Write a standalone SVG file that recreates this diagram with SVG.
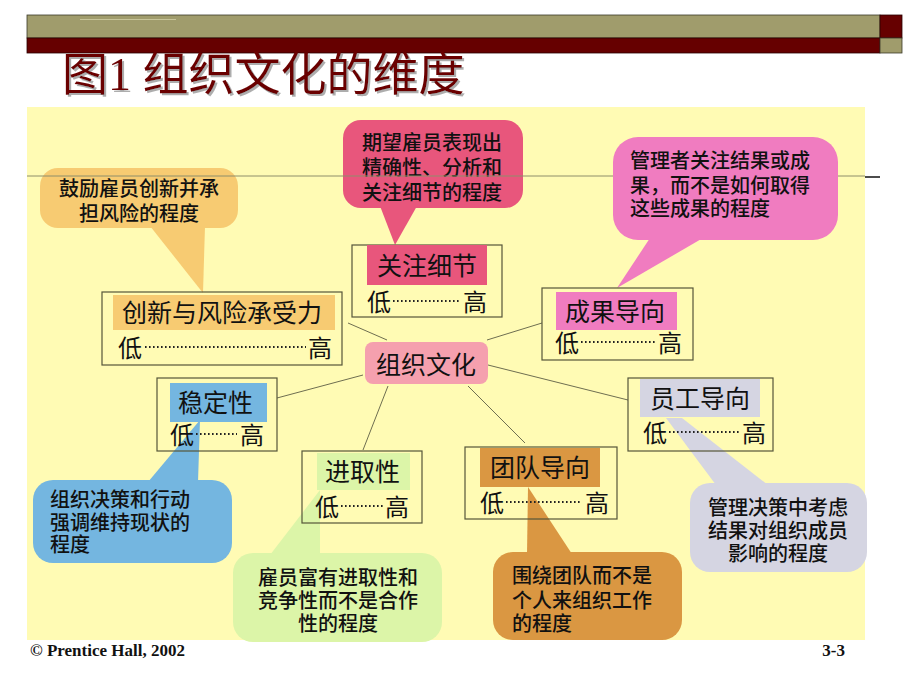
<svg xmlns="http://www.w3.org/2000/svg" width="920" height="690" viewBox="0 0 920 690">
<style>
.cjk{font-family:"Liberation Serif","Noto Sans CJK SC",serif;}
.bub{font-family:"Noto Sans CJK SC",sans-serif;font-size:20px;font-weight:500;fill:#111;}
.lab{font-family:"Noto Sans CJK SC",sans-serif;font-size:25px;fill:#111;}
.row{font-family:"Noto Sans CJK SC",sans-serif;font-size:24px;fill:#111;}
.box{fill:none;stroke:#55553a;stroke-width:1.2;}
.dots{stroke:#222;stroke-width:1.8;stroke-dasharray:1.6 2.4;}
.conn line{stroke:#6e6e50;stroke-width:1;}
.foot{font-family:"Liberation Serif",serif;font-weight:bold;font-size:17px;fill:#111;}
</style>
<defs>
<filter id="shadow" x="-5%" y="-20%" width="110%" height="140%">
<feDropShadow dx="2" dy="2" stdDeviation="0.6" flood-color="#8a8a8a" flood-opacity="0.7"/>
</filter>
</defs>
<rect width="920" height="690" fill="#ffffff"/>
<!-- header bars -->
<rect x="27" y="15" width="853" height="23" fill="#a09c6c" stroke="#3a3a2a" stroke-width="0.8"/>
<rect x="27" y="38" width="853" height="15" fill="#660000" stroke="#2a0000" stroke-width="0.8"/>
<rect x="880" y="15" width="22" height="23" fill="#660000" stroke="#2a0000" stroke-width="0.8"/>
<rect x="880" y="38" width="22" height="15" fill="#a09c6c" stroke="#3a3a2a" stroke-width="0.8"/>
<line x1="80" y1="19.5" x2="176" y2="19.5" stroke="#c8c59a" stroke-width="1"/>
<!-- title -->
<text x="62" y="90" class="cjk" font-size="46" fill="#6b0000" filter="url(#shadow)">图1 组织文化的维度</text>
<!-- background panel -->
<rect x="27" y="107" width="838" height="533" fill="#fffbb4"/>
<!-- bubbles A, B -->
<g id="bubble-innovation">
<polygon points="150,226 205,226 203,293" fill="#f7cb72"/>
<rect x="40" y="168" width="198" height="60" rx="18" fill="#f7cb72"/>
<text class="bub" text-anchor="middle"><tspan x="139" y="196">鼓励雇员创新并承</tspan><tspan x="139" y="221">担风险的程度</tspan></text>
</g>
<g id="bubble-detail">
<polygon points="380,206 417,206 395,245" fill="#e8567c"/>
<rect x="343" y="120" width="180" height="88" rx="18" fill="#e8567c"/>
<text class="bub"><tspan x="362" y="150">期望雇员表现出</tspan><tspan x="362" y="175">精确性、分析和</tspan><tspan x="362" y="200">关注细节的程度</tspan></text>
</g>
<line x1="27" y1="176" x2="865" y2="176" stroke="#8e8e6a" stroke-width="1"/>
<line x1="865" y1="177" x2="880" y2="177" stroke="#111" stroke-width="1.5"/>
<g id="bubble-outcome">
<polygon points="650,238 703,238 617,288" fill="#f07cc0"/>
<rect x="613" y="137" width="225" height="103" rx="25" fill="#f07cc0"/>
<text class="bub"><tspan x="630" y="168">管理者关注结果或成</tspan><tspan x="630" y="193">果，而不是如何取得</tspan><tspan x="630" y="216">这些成果的程度</tspan></text>
</g>
<g id="bubble-stability">
<polygon points="148,482 198,482 200,420" fill="#74b6e0"/>
<rect x="33" y="480" width="199" height="83" rx="20" fill="#74b6e0"/>
<text class="bub"><tspan x="50" y="507">组织决策和行动</tspan><tspan x="50" y="530">强调维持现状的</tspan><tspan x="50" y="552">程度</tspan></text>
</g>
<g id="bubble-aggressive">
<polygon points="270,555 320,555 320,490" fill="#dcf5a8"/>
<rect x="233" y="553" width="209" height="89" rx="20" fill="#dcf5a8"/>
<text class="bub" text-anchor="middle"><tspan x="338" y="585">雇员富有进取性和</tspan><tspan x="338" y="608">竞争性而不是合作</tspan><tspan x="338" y="631">性的程度</tspan></text>
</g>
<g id="bubble-team">
<polygon points="527,554 572,554 528,487" fill="#da9742"/>
<rect x="493" y="552" width="189" height="88" rx="20" fill="#da9742"/>
<text class="bub"><tspan x="512" y="583">围绕团队而不是</tspan><tspan x="512" y="608">个人来组织工作</tspan><tspan x="512" y="631">的程度</tspan></text>
</g>
<g id="bubble-people">
<polygon points="666,418 682,418 768,485 716,485" fill="#d5d5e2"/>
<rect x="690" y="483" width="177" height="89" rx="20" fill="#d5d5e2"/>
<text class="bub" text-anchor="middle"><tspan x="778" y="515">管理决策中考虑</tspan><tspan x="778" y="538">结果对组织成员</tspan><tspan x="778" y="561">影响的程度</tspan></text>
</g>
<!-- connectors -->
<g id="connectors" class="conn">
<line x1="348" y1="323" x2="387" y2="340"/>
<line x1="542" y1="323" x2="487" y2="340"/>
<line x1="277" y1="398" x2="363" y2="375"/>
<line x1="388" y1="386" x2="363" y2="450"/>
<line x1="468" y1="386" x2="525" y2="443"/>
<line x1="488" y1="365" x2="628" y2="400"/>
</g>
<!-- center -->
<g id="node-culture">
<rect x="365" y="342" width="123" height="42" rx="8" fill="#f5a0ae"/>
<text class="lab" x="376" y="374">组织文化</text>
</g>
<g id="node-innovation">
<rect class="box" x="102" y="292" width="240" height="73"/>
<rect x="113" y="295" width="222" height="35" fill="#f7cb72"/>
<text class="lab" x="122" y="322">创新与风险承受力</text>
<text class="row" x="118" y="357">低</text>
<line class="dots" x1="145" y1="347" x2="306" y2="347"/>
<text class="row" x="308" y="357">高</text>
</g>
<g id="node-detail">
<rect class="box" x="352" y="245" width="150" height="72"/>
<rect x="367" y="245" width="120" height="40" fill="#e8567c"/>
<text class="lab" x="377" y="275">关注细节</text>
<text class="row" x="367" y="311">低</text>
<line class="dots" x1="393" y1="301" x2="461" y2="301"/>
<text class="row" x="463" y="311">高</text>
</g>
<g id="node-outcome">
<rect class="box" x="542" y="288" width="151" height="72"/>
<rect x="556" y="292" width="121" height="38" fill="#f07cc0"/>
<text class="lab" x="565" y="321">成果导向</text>
<text class="row" x="555" y="352">低</text>
<line class="dots" x1="581" y1="342" x2="656" y2="342"/>
<text class="row" x="658" y="352">高</text>
</g>
<g id="node-stability">
<rect class="box" x="157" y="378" width="120" height="73"/>
<rect x="170" y="383" width="97" height="39" fill="#74b6e0"/>
<text class="lab" x="178" y="412">稳定性</text>
<text class="row" x="170" y="444">低</text>
<line class="dots" x1="196" y1="434" x2="237" y2="434"/>
<text class="row" x="240" y="444">高</text>
</g>
<g id="node-aggressive">
<rect class="box" x="302" y="451" width="120" height="72"/>
<rect x="317" y="453" width="93" height="37" fill="#dcf5a8"/>
<text class="lab" x="325" y="481">进取性</text>
<text class="row" x="315" y="516">低</text>
<line class="dots" x1="341" y1="506" x2="383" y2="506"/>
<text class="row" x="385" y="516">高</text>
</g>
<g id="node-team">
<rect class="box" x="465" y="447" width="152" height="72"/>
<rect x="480" y="448" width="120" height="39" fill="#da9742"/>
<text class="lab" x="490" y="477">团队导向</text>
<text class="row" x="480" y="512">低</text>
<line class="dots" x1="506" y1="502" x2="582" y2="502"/>
<text class="row" x="585" y="512">高</text>
</g>
<g id="node-people">
<rect class="box" x="628" y="378" width="145" height="73"/>
<rect x="640" y="379" width="120" height="38" fill="#d5d5e2"/>
<text class="lab" x="650" y="408">员工导向</text>
<text class="row" x="643" y="442">低</text>
<line class="dots" x1="669" y1="432" x2="740" y2="432"/>
<text class="row" x="742" y="442">高</text>
</g>
<!-- footer -->
<text class="foot" x="30" y="656">© Prentice Hall, 2002</text>
<text class="foot" x="845" y="656" text-anchor="end">3-3</text>
</svg>
